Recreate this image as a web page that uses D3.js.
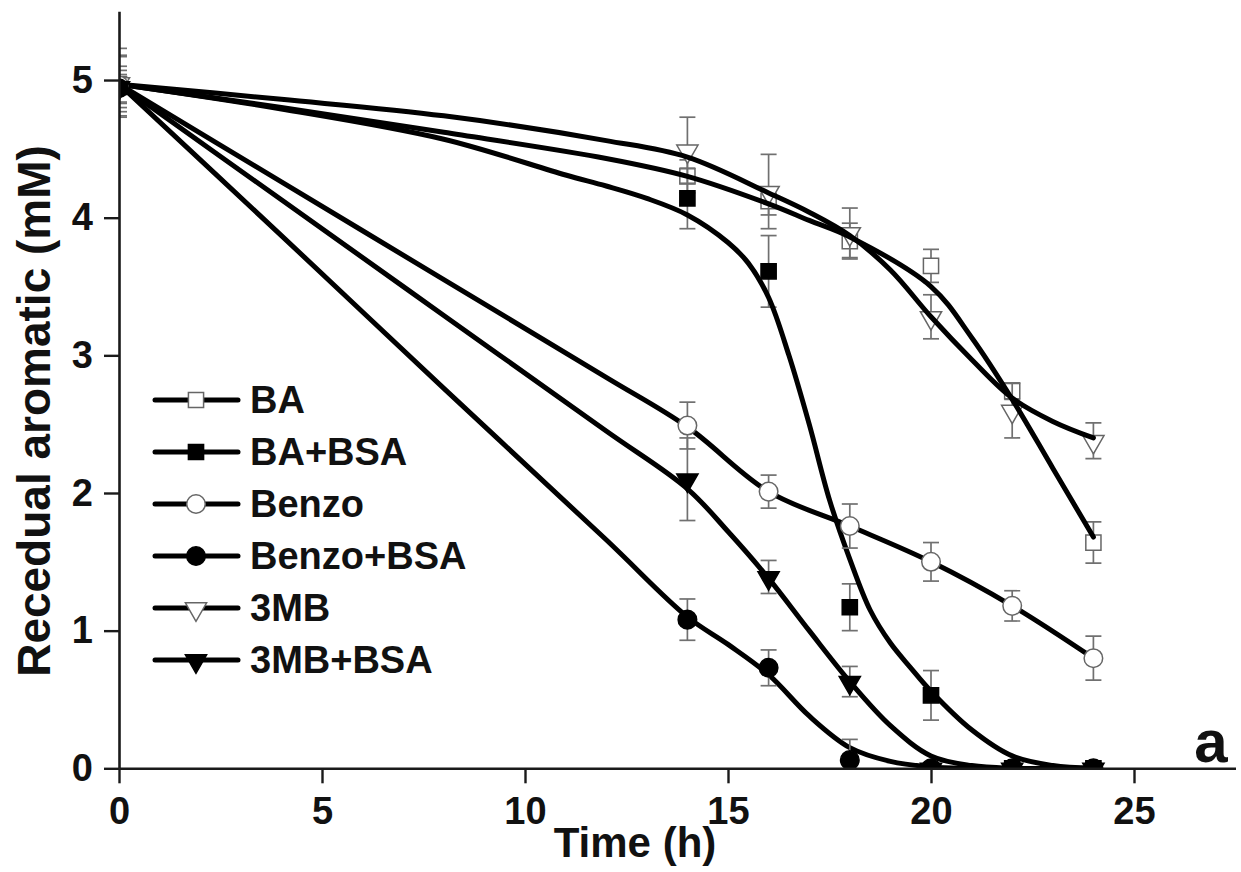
<!DOCTYPE html>
<html>
<head>
<meta charset="utf-8">
<script src="https://cdn.jsdelivr.net/npm/d3@7"></script>
<style>
  html, body { margin: 0; padding: 0; background: #fff; }
  svg { display: block; }
  text { font-family: "Liberation Sans", Arial, Helvetica, sans-serif; font-weight: bold; }
</style>
</head>
<body>
<svg id="chart" width="1241" height="872"></svg>
<script>
// ---------- data ----------
const time = [0, 14, 16, 18, 20, 22, 24];

const seriesNames = ["BA", "BA+BSA", "Benzo", "Benzo+BSA", "3MB", "3MB+BSA"];

// measured points (mM) and error bars (±)
const BA        = [4.97, 4.30, 4.12, 3.83, 3.65, 2.74, 1.64];
const BA_err    = [0.20, 0.12, 0.10, 0.13, 0.12, 0.06, 0.15];
const BABSA     = [4.95, 4.14, 3.61, 1.17, 0.53, 0.00, 0.00];
const BABSA_err = [0.15, 0.22, 0.26, 0.17, 0.18, 0.02, 0.02];
const Benzo     = [4.96, 2.49, 2.01, 1.76, 1.50, 1.18, 0.80];
const Benzo_err = [0.22, 0.17, 0.12, 0.16, 0.14, 0.11, 0.16];
const BzBSA     = [4.94, 1.08, 0.73, 0.06, 0.00, 0.00, 0.00];
const BzBSA_err = [0.10, 0.15, 0.13, 0.15, 0.02, 0.02, 0.02];
const MB3       = [4.98, 4.49, 4.19, 3.89, 3.28, 2.60, 2.38];
const MB3_err   = [0.25, 0.24, 0.27, 0.18, 0.16, 0.20, 0.13];
const MB3BSA    = [4.95, 2.10, 1.39, 0.63, 0.00, 0.00, 0.00];
const MB3BSA_err= [0.12, 0.30, 0.12, 0.11, 0.02, 0.02, 0.02];

// fitted curves
const fitBA_t     = [0, 4, 8, 12, 14, 16, 17, 18, 20, 21, 22, 23, 24];
const fitBA_v     = [4.97, 4.80, 4.62, 4.43, 4.30, 4.10, 3.98, 3.86, 3.50, 3.13, 2.68, 2.18, 1.68];
const fitBABSA_t  = [0, 4, 8, 11, 12, 13, 14, 15, 15.5, 16, 16.5, 17, 17.5, 18, 18.5, 19, 19.5, 20, 21, 22, 23, 24];
const fitBABSA_v  = [4.97, 4.79, 4.57, 4.31, 4.23, 4.14, 4.02, 3.82, 3.67, 3.42, 3.00, 2.50, 1.95, 1.52, 1.15, 0.91, 0.73, 0.56, 0.28, 0.09, 0.02, 0.00];
const fitBenzo_t  = [0, 4, 8, 12, 14, 16, 18, 20, 22, 24];
const fitBenzo_v  = [4.97, 4.26, 3.55, 2.84, 2.48, 2.01, 1.76, 1.50, 1.18, 0.80];
const fitBzBSA_t  = [0, 4, 8, 12, 14, 15, 16, 17, 18, 19, 20, 21, 24];
const fitBzBSA_v  = [4.97, 3.87, 2.76, 1.66, 1.10, 0.90, 0.68, 0.38, 0.15, 0.05, 0.01, 0.00, 0.00];
const fitMB3_t    = [0, 4, 8, 12, 14, 16, 17, 18, 19, 20, 21, 22, 23, 24];
const fitMB3_v    = [4.97, 4.86, 4.74, 4.56, 4.44, 4.18, 4.04, 3.87, 3.62, 3.28, 2.97, 2.69, 2.52, 2.40];
const fitMB3BSA_t = [0, 4, 8, 12, 14, 15, 16, 17, 18, 19, 20, 21, 22, 24];
const fitMB3BSA_v = [4.97, 4.13, 3.29, 2.45, 2.03, 1.72, 1.38, 1.00, 0.63, 0.31, 0.09, 0.02, 0.00, 0.00];

// axis ticks
const xMajorTicks = [0, 5, 10, 15, 20, 25];
const xMinorTicks = [2.5, 7.5, 12.5, 17.5, 22.5, 27.5];
const yMajorTicks = [0, 1, 2, 3, 4, 5];
const yMinorTicks = [0.5, 1.5, 2.5, 3.5, 4.5, 5.5];
const xTitle = "Time (h)";
const yTitle = "Recedual aromatic (mM)";
const panelLabel = "a";

// ---------- assemble ----------
const series = [
  {name: seriesNames[0], v: BA,     e: BA_err,     ft: fitBA_t,     fv: fitBA_v,     shape: "square",   filled: false, top: false},
  {name: seriesNames[1], v: BABSA,  e: BABSA_err,  ft: fitBABSA_t,  fv: fitBABSA_v,  shape: "square",   filled: true,  top: false},
  {name: seriesNames[2], v: Benzo,  e: Benzo_err,  ft: fitBenzo_t,  fv: fitBenzo_v,  shape: "circle",   filled: false, top: true},
  {name: seriesNames[3], v: BzBSA,  e: BzBSA_err,  ft: fitBzBSA_t,  fv: fitBzBSA_v,  shape: "circle",   filled: true,  top: true},
  {name: seriesNames[4], v: MB3,    e: MB3_err,    ft: fitMB3_t,    fv: fitMB3_v,    shape: "triangle", filled: false, top: false},
  {name: seriesNames[5], v: MB3BSA, e: MB3BSA_err, ft: fitMB3BSA_t, fv: fitMB3BSA_v, shape: "triangle", filled: true,  top: true}
];

const svg = d3.select("#chart");
const x = d3.scaleLinear().domain([0, 27.5]).range([119, 1235.5]);
const y = d3.scaleLinear().domain([0, 5.5]).range([768.3, 11.2]);

const symType = {square: d3.symbolSquare, circle: d3.symbolCircle, triangle: d3.symbolTriangle};
const symSize = {square: 230, circle: 270, triangle: 195};
const symbolPath = s => d3.symbol().type(symType[s]).size(symSize[s])();
const symTransform = (s, px, py) => s === "triangle" ? `translate(${px},${py + 1}) rotate(180)` : `translate(${px},${py})`;

svg.append("defs").append("clipPath").attr("id", "plotclip")
  .append("rect").attr("x", x(0)).attr("y", 0).attr("width", x(27.5) - x(0) + 2).attr("height", y(0));

const plot = svg.append("g").attr("clip-path", "url(#plotclip)");

function drawPoints(g, s) {
  const pts = time.map((t, i) => ({t, v: s.v[i], e: s.e[i]}));
  const eb = g.append("g").attr("stroke", "#707070").attr("stroke-width", 1.7).attr("fill", "none");
  pts.forEach(p => {
    const px = x(p.t), y1 = y(p.v + p.e), y2 = y(p.v - p.e);
    eb.append("line").attr("x1", px).attr("x2", px).attr("y1", y1).attr("y2", y2);
    eb.append("line").attr("x1", px - 8).attr("x2", px + 8).attr("y1", y1).attr("y2", y1);
    eb.append("line").attr("x1", px - 8).attr("x2", px + 8).attr("y1", y2).attr("y2", y2);
  });
  g.append("g").selectAll("path").data(pts).join("path")
    .attr("d", symbolPath(s.shape))
    .attr("transform", p => symTransform(s.shape, x(p.t), y(p.v)))
    .attr("fill", s.filled ? "#000" : "#fff")
    .attr("stroke", s.filled ? "#000" : "#666")
    .attr("stroke-width", 1.5);
}

// markers under the curves
series.filter(s => !s.top).forEach(s => drawPoints(plot.append("g"), s));

// fitted curves
const line = d3.line().x(d => x(d[0])).y(d => y(d[1])).curve(d3.curveCatmullRom.alpha(0.5));
series.forEach(s => {
  plot.append("path")
    .attr("d", line(s.ft.map((t, i) => [t, s.fv[i]])))
    .attr("fill", "none").attr("stroke", "#000").attr("stroke-width", 5)
    .attr("stroke-linejoin", "round").attr("stroke-linecap", "round");
});

// markers above the curves
series.filter(s => s.top).forEach(s => drawPoints(plot.append("g"), s));

// ---------- axes ----------
const axisColor = "#1a1a1a";
const gx = svg.append("g").attr("transform", `translate(0,${y(0)})`);
gx.call(d3.axisBottom(x).tickValues(xMinorTicks).tickSize(8).tickSizeOuter(0).tickFormat(""));
gx.call(d3.axisBottom(x).tickValues(xMajorTicks).tickSize(15).tickSizeOuter(0).tickPadding(14).tickFormat(d3.format("d")));
const gy = svg.append("g").attr("transform", `translate(${x(0)},0)`);
gy.call(d3.axisLeft(y).tickValues(yMinorTicks).tickSize(8).tickSizeOuter(0).tickFormat(""));
gy.call(d3.axisLeft(y).tickValues(yMajorTicks).tickSize(15).tickSizeOuter(0).tickPadding(11).tickFormat(d3.format("d")));
[gx, gy].forEach(g => {
  g.selectAll(".domain").attr("stroke", axisColor).attr("stroke-width", 2.6);
  g.selectAll(".tick line").attr("stroke", axisColor).attr("stroke-width", 2.4);
  g.selectAll(".tick text").attr("fill", "#111").attr("font-size", 38)
    .attr("font-family", "'Liberation Sans', Arial, sans-serif").attr("font-weight", "bold");
});

svg.append("text").attr("x", 635).attr("y", 857).attr("text-anchor", "middle")
  .attr("font-size", 42).attr("fill", "#111").text(xTitle);
svg.append("text").attr("transform", "translate(50,411) rotate(-90)").attr("text-anchor", "middle")
  .attr("font-size", 46).attr("fill", "#111").text(yTitle);
svg.append("text").attr("x", 1211).attr("y", 762).attr("text-anchor", "middle")
  .attr("font-size", 60).attr("fill", "#111").text(panelLabel);

// ---------- legend ----------
const legend = svg.append("g");
const rowY = i => 400 + i * 52;
series.forEach((s, i) => {
  const g = legend.append("g").attr("transform", `translate(0,${rowY(i)})`);
  g.append("line").attr("x1", 155).attr("x2", 238).attr("y1", 0).attr("y2", 0)
    .attr("stroke", "#000").attr("stroke-width", 5).attr("stroke-linecap", "round");
  g.append("path").attr("d", symbolPath(s.shape))
    .attr("transform", symTransform(s.shape, 196, 0))
    .attr("fill", s.filled ? "#000" : "#fff")
    .attr("stroke", s.filled ? "#000" : "#666").attr("stroke-width", 1.5);
  g.append("text").attr("x", 250).attr("y", 13).attr("font-size", 38).attr("fill", "#111").text(s.name);
});
</script>
</body>
</html>
